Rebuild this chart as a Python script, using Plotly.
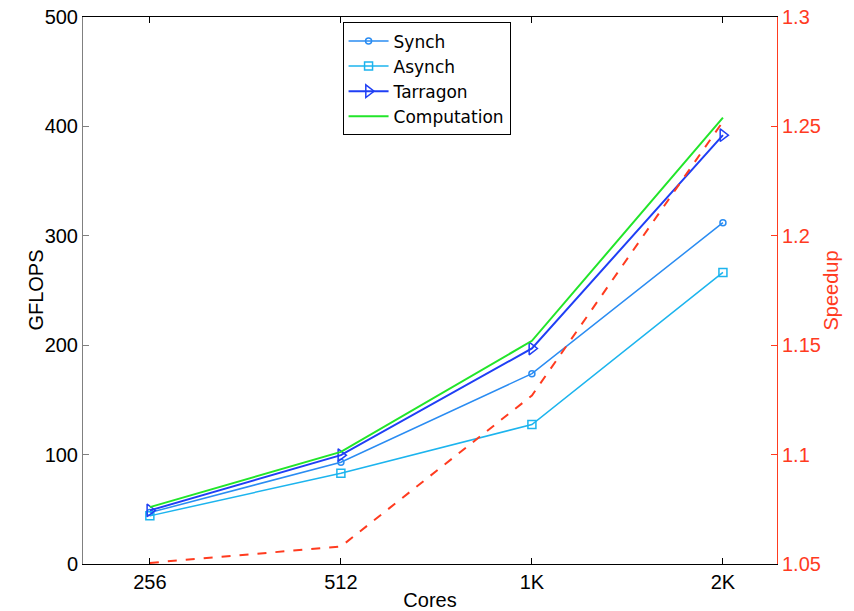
import plotly.graph_objects as go

cores = ["256", "512", "1K", "2K"]
xpos = [1, 2, 3, 4]
synch = [47, 93, 174, 312]
asynch = [44, 83, 127.5, 266.5]
tarragon = [49, 99.5, 197, 392]
computation = [52, 102.5, 204, 408]
speedup = [1.0505, 1.058, 1.127, 1.2522]

FONT = "Liberation Sans, Arial, sans-serif"
RED = "#FF3B1F"

fig = go.Figure()
fig.add_trace(go.Scatter(x=xpos, y=synch, name="Synch", mode="lines+markers",
                         line=dict(color="#2A8CF2", width=1.5),
                         marker=dict(symbol="circle-open", size=6, color="#2A8CF2", line=dict(width=1.5))))
fig.add_trace(go.Scatter(x=xpos, y=asynch, name="Asynch", mode="lines+markers",
                         line=dict(color="#1CB4EE", width=1.5),
                         marker=dict(symbol="square-open", size=8, color="#1CB4EE", line=dict(width=1.5))))
fig.add_trace(go.Scatter(x=xpos, y=tarragon, name="Tarragon", mode="lines+markers",
                         line=dict(color="#1F3FF5", width=2),
                         marker=dict(symbol="triangle-right-open", size=11, color="#1F3FF5", line=dict(width=1.5))))
fig.add_trace(go.Scatter(x=xpos, y=computation, name="Computation", mode="lines",
                         line=dict(color="#22E52A", width=2)))
fig.add_trace(go.Scatter(x=xpos, y=speedup, name="Speedup", mode="lines", yaxis="y2",
                         showlegend=False, line=dict(color=RED, width=2, dash="dash")))

fig.update_layout(
    width=854, height=611,
    margin=dict(l=83, r=77, t=17, b=47, autoexpand=False),
    plot_bgcolor="white", paper_bgcolor="white",
    font=dict(family=FONT, size=20, color="black"),
    showlegend=True,
    legend=dict(x=0.374, y=0.99, xanchor="left", yanchor="top",
                bgcolor="white", bordercolor="black", borderwidth=1,
                font=dict(size=17, family="DejaVu Sans, sans-serif"),
                tracegroupgap=0, itemwidth=40),
    xaxis=dict(range=[0.65, 4.283], tickvals=xpos, ticktext=cores, automargin=False,
               showgrid=False, zeroline=False, showline=True, linecolor="black", linewidth=1,
               mirror="ticks", ticks="inside", ticklen=6, tickcolor="black",
               title=dict(text="Cores", font=dict(size=20), standoff=2)),
    yaxis=dict(range=[0, 500], tickvals=[0, 100, 200, 300, 400, 500], automargin=False,
               showgrid=False, zeroline=False, showline=True, linecolor="#808080", linewidth=1,
               ticks="inside", ticklen=6, tickcolor="#808080"),
    yaxis2=dict(range=[1.05, 1.3], tickvals=[1.05, 1.1, 1.15, 1.2, 1.25, 1.3],
                ticktext=["1.05", "1.1", "1.15", "1.2", "1.25", "1.3"], automargin=False,
                overlaying="y", side="right", anchor="x",
                showgrid=False, zeroline=False, showline=True, linecolor=RED, linewidth=1,
                ticks="inside", ticklen=6, tickcolor=RED,
                tickfont=dict(color=RED, size=20),
                title=dict(text="Speedup", font=dict(color=RED, size=20), standoff=4)),
    annotations=[dict(text="GFLOPS", textangle=-90, xref="paper", yref="paper",
                      x=-0.069, y=0.5, xanchor="center", yanchor="middle",
                      showarrow=False, font=dict(size=20, family=FONT, color="black"))],
)

fig.write_html("out.html", config={"displayModeBar": False},
               post_script="document.body.style.margin='0';document.body.style.overflow='hidden';")
